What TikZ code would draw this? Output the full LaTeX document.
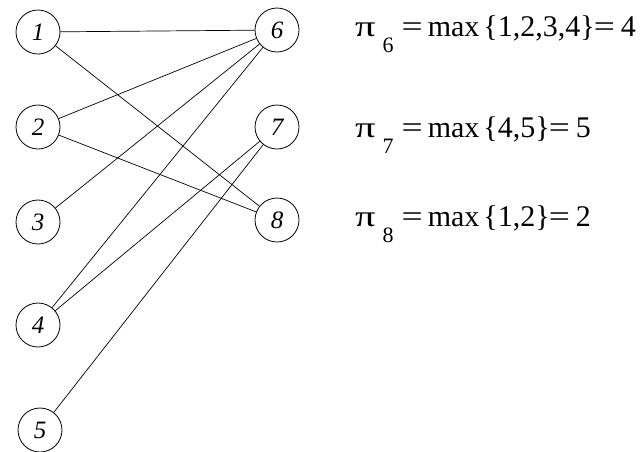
\documentclass[tikz,border=0pt]{standalone}
\usepackage{fontspec}
\setmainfont{Liberation Serif}
\newcommand{\wideeq}{\scalebox{1.25}[1]{=}}
\newcommand{\bigpi}{\scalebox{1.5}[1.1]{\fontsize{27}{30}\selectfont π}}
\newcommand{\pisub}[1]{\bigpi\hspace{7pt}\raisebox{-16pt}{\fontsize{22}{24}\selectfont #1}\hspace{8pt}\wideeq\hspace{5pt}max\hspace{4pt}}
\begin{document}
\begin{tikzpicture}[x=1pt,y=-1pt,
  vtx/.style={circle,draw,line width=0.8pt,minimum size=44pt,inner sep=0pt,
    font=\fontsize{25}{28}\selectfont\itshape},
  edge/.style={line width=0.7pt},
  eqn/.style={anchor=base west,inner sep=0pt,font=\fontsize{30}{32}\selectfont}]
\useasboundingbox (0,0) rectangle (644,451);
\node[vtx] (n1) at (38,32) {1};
\node[vtx] (n2) at (38,127) {2};
\node[vtx] (n3) at (38,222) {3};
\node[vtx] (n4) at (38,325) {4};
\node[vtx] (n5) at (40,430) {5};
\node[vtx] (n6) at (277,30) {6};
\node[vtx] (n7) at (277,127) {7};
\node[vtx] (n8) at (277,220) {8};
\draw[edge] (n1) -- (n6);
\draw[edge] (n1) -- (n8);
\draw[edge] (n2) -- (n6);
\draw[edge] (n2) -- (n8);
\draw[edge] (n3) -- (n6);
\draw[edge] (n4) -- (n6);
\draw[edge] (n4) -- (n7);
\draw[edge] (n5) -- (n7);
\node[eqn] (e6) at (355,36) {\pisub{6}\{1,2,3,4\}\hspace{-1pt}\wideeq\hspace{6pt}4};
\node[eqn] (e7) at (355,137) {\pisub{7}\{4,5\}\hspace{-1pt}\wideeq\hspace{6pt}5};
\node[eqn] (e8) at (355,226) {\pisub{8}\{1,2\}\hspace{-1pt}\wideeq\hspace{6pt}2};
\end{tikzpicture}
\end{document}
